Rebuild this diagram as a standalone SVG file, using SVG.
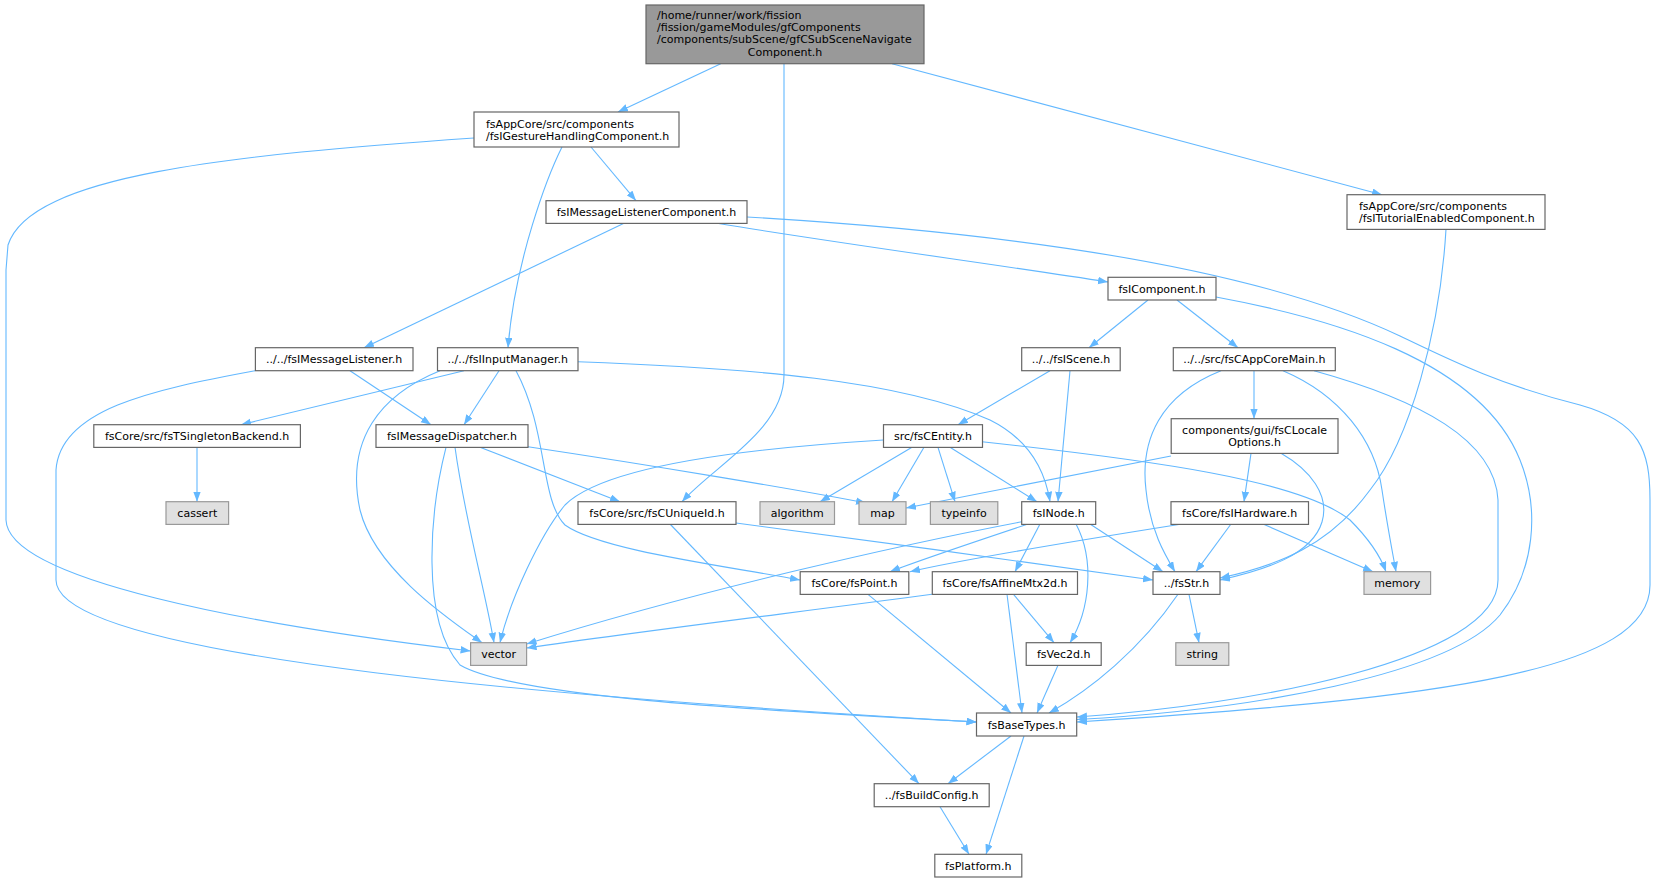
<svg xmlns="http://www.w3.org/2000/svg" width="1656" height="883" viewBox="0 0 1656 883">
<defs>
<marker id="arr" markerUnits="userSpaceOnUse" markerWidth="11" markerHeight="8" refX="10" refY="3.75" orient="auto">
<path d="M0,0 L10,3.75 L0,7.5 z" fill="#63b8ff"/>
</marker>
</defs>
<style>
.n rect{fill:#ffffff;stroke:#666666;stroke-width:1.2}
.g rect{fill:#e0e0e0;stroke:#999999;stroke-width:1.2}
.r rect{fill:#999999;stroke:#666666;stroke-width:1.2}
text{font-family:"DejaVu Sans",sans-serif;font-size:11px;fill:#000000}
.c{text-anchor:middle}
#edges path{fill:none;stroke:#63b8ff;stroke-width:1.1;marker-end:url(#arr)}
</style>
<rect width="1656" height="883" fill="#ffffff"/>
<g id="edges">
<path d="M720.7,63.7 L618,112"/>
<path d="M784,64 L784,375 C784,430 715,465 682,501.7"/>
<path d="M892,63.7 L1382,194.7"/>
<path d="M474,138 C230,155 30,175 8,245 L6,270 L6,520 C8,580 250,625 470.6,651"/>
<path d="M562,147 C548,175 515,260 508,347.7"/>
<path d="M591,147 L636,200.7"/>
<path d="M624,223.3 L364,347.7"/>
<path d="M717,223.3 C850,245 1000,265 1108,282"/>
<path d="M747,217 C1000,232 1250,265 1400,336 C1450,360 1500,385 1580,405 C1640,422 1650,450 1650,500 L1650,585 C1650,670 1450,698 1077,722"/>
<path d="M1148,300 L1089,347.7"/>
<path d="M1177,300 L1238,347.7"/>
<path d="M1216,297 C1330,318 1480,360 1520,460 C1540,510 1535,570 1500,615 C1450,675 1250,710 1077,719.5"/>
<path d="M1314,370.7 C1420,400 1495,440 1498,500 L1498,580 C1498,660 1250,705 1077,717"/>
<path d="M1254,370.7 L1254,418.7"/>
<path d="M1221,370.7 C1160,395 1140,440 1146,490 C1150,530 1165,555 1175,571.7"/>
<path d="M1283,370.7 C1340,395 1375,440 1382,490 C1388,530 1393,555 1396,571.7"/>
<path d="M1446,229.3 C1440,330 1410,440 1370,490 C1330,545 1280,565 1220,578"/>
<path d="M1281,453.3 C1310,470 1330,495 1322,522 C1312,555 1265,570 1220,580"/>
<path d="M1251,453.3 L1244,501.7"/>
<path d="M1171,456 L906,508"/>
<path d="M350,370.7 L431,424.7"/>
<path d="M255,370.7 C150,390 60,410 56,470 L56,580 C56,660 600,700 976.5,722"/>
<path d="M464,370.7 L241,424.7"/>
<path d="M499,370.7 L464,424.7"/>
<path d="M578,361.7 C750,368 900,380 990,420 C1030,440 1045,470 1050,501.7"/>
<path d="M440,370.7 C380,395 345,440 360,510 C375,570 450,620 482,642.7"/>
<path d="M516,370.7 C548,430 540,500 565,525 C600,550 720,565 800,580"/>
<path d="M197,447.3 L197,501.7"/>
<path d="M480,447.3 L620,501.7"/>
<path d="M528,446.7 C650,465 800,490 866,503"/>
<path d="M455,447.3 C465,520 485,590 494,642.7"/>
<path d="M446,447.3 C430,510 420,620 460,665 C520,700 800,712 976.5,722"/>
<path d="M912,447.3 L820,501.7"/>
<path d="M924,447.3 L892,501.7"/>
<path d="M938,447.3 L955,501.7"/>
<path d="M950,447.3 L1037,501.7"/>
<path d="M982,441.7 C1150,460 1300,480 1350,520 C1370,540 1380,555 1386,571.7"/>
<path d="M883.5,440 C720,450 600,470 565,505 C540,535 510,600 500,642.7"/>
<path d="M1050,370.7 L958,424.7"/>
<path d="M1070,370.7 L1058,501.7"/>
<path d="M736,523 C850,538 1050,565 1153,580"/>
<path d="M670,524 L919,783.7"/>
<path d="M1022,521.7 C900,545 700,590 526.6,644"/>
<path d="M1028,524 C980,540 920,560 890,571.7"/>
<path d="M1040,524 L1015,571.7"/>
<path d="M1076,524 C1095,560 1090,610 1070,642.7"/>
<path d="M1090,524 L1163,571.7"/>
<path d="M1182,524 C1100,537 960,560 910,571.7"/>
<path d="M1231,524 L1196,571.7"/>
<path d="M1263,524 L1373,571.7"/>
<path d="M868,594.3 L1011,713"/>
<path d="M1007,594.3 L1022,713"/>
<path d="M1013.5,594.3 L1054,642.7"/>
<path d="M932,594.3 C800,612 650,630 526.6,648"/>
<path d="M1058,665.3 L1037,713"/>
<path d="M1189,594.3 L1199,642.7"/>
<path d="M1178,594.3 C1140,650 1090,690 1049,713"/>
<path d="M1011,736 L948,783.7"/>
<path d="M1024,736 L986,854.3"/>
<path d="M940,806.7 L969,854.3"/>
</g>
<g id="root" class="r"><rect x="646" y="5" width="278" height="58.7"/>
<text x="657" y="19">/home/runner/work/fission</text>
<text x="657" y="31">/fission/gameModules/gfComponents</text>
<text x="657" y="43">/components/subScene/gfCSubSceneNavigate</text>
<text class="c" x="785" y="55.5">Component.h</text></g>
<g id="gesture" class="n"><rect x="474" y="112" width="205" height="35"/>
<text x="486" y="127.5">fsAppCore/src/components</text>
<text x="486" y="139.5">/fsIGestureHandlingComponent.h</text></g>
<g id="msgListenerComp" class="n"><rect x="546" y="200.7" width="201" height="22.7"/><text class="c" x="646.5" y="216">fsIMessageListenerComponent.h</text></g>
<g id="tutorial" class="n"><rect x="1347" y="194.7" width="198" height="34.7"/>
<text x="1359" y="210">fsAppCore/src/components</text>
<text x="1359" y="222">/fsITutorialEnabledComponent.h</text></g>
<g id="component" class="n"><rect x="1108" y="277.3" width="108" height="22.7"/><text class="c" x="1162" y="292.6">fsIComponent.h</text></g>
<g id="msgListener" class="n"><rect x="255.4" y="347.7" width="157.6" height="23"/><text class="c" x="334.2" y="363.2">../../fsIMessageListener.h</text></g>
<g id="inputManager" class="n"><rect x="437.5" y="347.7" width="140.5" height="23"/><text class="c" x="507.7" y="363.2">../../fsIInputManager.h</text></g>
<g id="scene" class="n"><rect x="1021.7" y="347.7" width="98.5" height="23"/><text class="c" x="1071" y="363.2">../../fsIScene.h</text></g>
<g id="appCoreMain" class="n"><rect x="1173.3" y="347.7" width="162" height="23"/><text class="c" x="1254.3" y="363.2">../../src/fsCAppCoreMain.h</text></g>
<g id="singleton" class="n"><rect x="93.8" y="424.7" width="206.6" height="22.7"/><text class="c" x="197.1" y="440">fsCore/src/fsTSingletonBackend.h</text></g>
<g id="dispatcher" class="n"><rect x="376" y="424.7" width="152" height="22.7"/><text class="c" x="452" y="440">fsIMessageDispatcher.h</text></g>
<g id="entity" class="n"><rect x="883.5" y="424.7" width="99" height="22.7"/><text class="c" x="933" y="440">src/fsCEntity.h</text></g>
<g id="locale" class="n"><rect x="1171.2" y="418.7" width="166.8" height="34.7"/>
<text class="c" x="1254.6" y="434">components/gui/fsCLocale</text>
<text class="c" x="1254.6" y="446">Options.h</text></g>
<g id="cassert" class="g"><rect x="166" y="501.7" width="62.6" height="22.7"/><text class="c" x="197.3" y="517">cassert</text></g>
<g id="uniqueId" class="n"><rect x="578" y="501.7" width="158" height="22.7"/><text class="c" x="657" y="517">fsCore/src/fsCUniqueId.h</text></g>
<g id="algorithm" class="g"><rect x="760" y="501.7" width="74.5" height="22.7"/><text class="c" x="797.2" y="517">algorithm</text></g>
<g id="map" class="g"><rect x="859" y="501.7" width="47" height="22.7"/><text class="c" x="882.5" y="517">map</text></g>
<g id="typeinfo" class="g"><rect x="930.4" y="501.7" width="67.4" height="22.7"/><text class="c" x="964.1" y="517">typeinfo</text></g>
<g id="node" class="n"><rect x="1021.7" y="501.7" width="74" height="22.7"/><text class="c" x="1058.7" y="517">fsINode.h</text></g>
<g id="hardware" class="n"><rect x="1171" y="501.7" width="137.5" height="22.7"/><text class="c" x="1239.7" y="517">fsCore/fsIHardware.h</text></g>
<g id="point" class="n"><rect x="800.2" y="571.7" width="108.6" height="22.7"/><text class="c" x="854.5" y="587">fsCore/fsPoint.h</text></g>
<g id="affine" class="n"><rect x="932.3" y="571.7" width="145.2" height="22.7"/><text class="c" x="1004.9" y="587">fsCore/fsAffineMtx2d.h</text></g>
<g id="str" class="n"><rect x="1153" y="571.7" width="67" height="22.7"/><text class="c" x="1186.5" y="587">../fsStr.h</text></g>
<g id="memory" class="g"><rect x="1364" y="571.7" width="66.6" height="22.7"/><text class="c" x="1397.3" y="587">memory</text></g>
<g id="vector" class="g"><rect x="470.6" y="642.7" width="56" height="22.7"/><text class="c" x="498.6" y="658">vector</text></g>
<g id="vec2d" class="n"><rect x="1026.2" y="642.7" width="75" height="22.7"/><text class="c" x="1063.7" y="658">fsVec2d.h</text></g>
<g id="string" class="g"><rect x="1175.8" y="642.7" width="53" height="22.7"/><text class="c" x="1202.3" y="658">string</text></g>
<g id="baseTypes" class="n"><rect x="976.5" y="713" width="100.2" height="23"/><text class="c" x="1026.6" y="728.5">fsBaseTypes.h</text></g>
<g id="buildConfig" class="n"><rect x="874.2" y="783.7" width="115" height="23"/><text class="c" x="931.7" y="799.2">../fsBuildConfig.h</text></g>
<g id="platform" class="n"><rect x="934.8" y="854.3" width="87" height="22.7"/><text class="c" x="978.3" y="869.6">fsPlatform.h</text></g>
</svg>
